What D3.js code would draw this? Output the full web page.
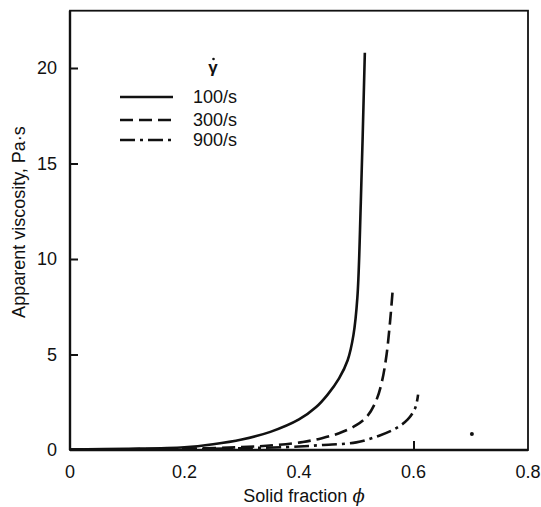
<!DOCTYPE html>
<html>
<head>
<meta charset="utf-8">
<script src="https://cdn.jsdelivr.net/npm/d3@7"></script>
<style>
  body { margin: 0; background: #fff; }
  text { font-family: "Liberation Sans", Arial, sans-serif; fill: #111; }
</style>
</head>
<body>
<div id="chart"></div>
<script>
// values
const xTicks = [0, 0.2, 0.4, 0.6, 0.8]
const yTicks = [0, 5, 10, 15, 20]
const rateLabels = ["100/s", "300/s", "900/s"]

const phi100  = [0, 0.1, 0.2, 0.25, 0.3, 0.35, 0.4, 0.43, 0.45, 0.47, 0.485, 0.495, 0.502, 0.508, 0.515]
const visc100 = [0.03, 0.06, 0.14, 0.3, 0.55, 0.95, 1.6, 2.25, 2.9, 3.75, 4.7, 6.0, 8.0, 13.0, 20.8]

const phi300  = [0, 0.1, 0.2, 0.3, 0.36, 0.407, 0.44, 0.47, 0.5, 0.52, 0.535, 0.545, 0.553, 0.559, 0.564]
const visc300 = [0.02, 0.04, 0.07, 0.15, 0.26, 0.42, 0.62, 0.88, 1.3, 1.8, 2.6, 3.6, 5.0, 6.7, 8.5]

const phi900  = [0, 0.1, 0.2, 0.3, 0.4, 0.44, 0.5, 0.54, 0.57, 0.59, 0.603, 0.608]
const visc900 = [0.01, 0.03, 0.05, 0.09, 0.18, 0.26, 0.4, 0.75, 1.15, 1.6, 2.2, 2.9]

// lone speck near phi = 0.7 on the original
const strayPhi  = [0.702]
const strayVisc = [0.84]

function main(){
  const width = 541
  const height = 507

  const svg = d3.select("#chart")
      .append("svg")
      .attr("width", width)
      .attr("height", height)

  const x = d3.scaleLinear().domain([0, 0.8]).range([70, 528])
  const y = d3.scaleLinear().domain([0, 20]).range([450, 68])
  const yTop = y(23)

  const series = [
    {label: rateLabels[0], phi: phi100, visc: visc100, dash: null},
    {label: rateLabels[1], phi: phi300, visc: visc300, dash: "13,6"},
    {label: rateLabels[2], phi: phi900, visc: visc900, dash: "15,5,3,5"}
  ]

  // curves
  const line = d3.line()
      .x(d => x(d[0]))
      .y(d => y(d[1]))
      .curve(d3.curveCatmullRom.alpha(0.5))

  svg.append("g")
    .selectAll("path")
    .data(series)
    .join("path")
      .attr("d", s => line(d3.zip(s.phi, s.visc)))
      .attr("fill", "none")
      .attr("stroke", "#111")
      .attr("stroke-width", 2.6)
      .attr("stroke-dasharray", s => s.dash)

  svg.append("g")
    .selectAll("circle")
    .data(d3.zip(strayPhi, strayVisc))
    .join("circle")
      .attr("cx", d => x(d[0]))
      .attr("cy", d => y(d[1]))
      .attr("r", 2)
      .attr("fill", "#111")

  // frame
  svg.append("rect")
      .attr("x", x(0))
      .attr("y", yTop)
      .attr("width", x(0.8) - x(0))
      .attr("height", y(0) - yTop)
      .attr("fill", "none")
      .attr("stroke", "#111")
      .attr("stroke-width", 1.8)
  // heavier bottom & left edges like the scan
  svg.append("line")
      .attr("x1", x(0)).attr("x2", x(0.8))
      .attr("y1", y(0)).attr("y2", y(0))
      .attr("stroke", "#111").attr("stroke-width", 2.6)
  svg.append("line")
      .attr("x1", x(0)).attr("x2", x(0))
      .attr("y1", yTop).attr("y2", y(0))
      .attr("stroke", "#111").attr("stroke-width", 2.4)

  // axes (ticks point inward)
  const yAxis = svg.append("g")
      .attr("transform", `translate(${x(0)},0)`)
      .call(d3.axisRight(y).tickValues(yTicks.slice(1)).tickSize(8).tickFormat(""))
  yAxis.select(".domain").remove()
  yAxis.selectAll("line").attr("stroke", "#111").attr("stroke-width", 2)

  svg.append("g")
    .selectAll("text")
    .data(yTicks)
    .join("text")
      .attr("x", x(0) - 13)
      .attr("y", d => y(d))
      .attr("dy", "0.35em")
      .attr("text-anchor", "end")
      .attr("font-size", 18)
      .text(d => d)

  const xAxis = svg.append("g")
      .attr("transform", `translate(0,${y(0)})`)
      .call(d3.axisTop(x).tickValues([0.6]).tickSize(9).tickFormat(""))
  xAxis.select(".domain").remove()
  xAxis.selectAll("line").attr("stroke", "#111").attr("stroke-width", 2)

  svg.append("g")
    .selectAll("text")
    .data(xTicks)
    .join("text")
      .attr("x", d => x(d))
      .attr("y", 478)
      .attr("text-anchor", "middle")
      .attr("font-size", 18)
      .text(d => d)

  // axis titles
  const xt = svg.append("text")
      .attr("x", 304)
      .attr("y", 502)
      .attr("text-anchor", "middle")
      .attr("font-size", 18)
  xt.append("tspan").text("Solid fraction ")
  xt.append("tspan").attr("font-style", "italic").attr("font-family", "DejaVu Serif").text("ϕ")

  svg.append("text")
      .attr("transform", "translate(25,222) rotate(-90)")
      .attr("text-anchor", "middle")
      .attr("font-size", 18)
      .text("Apparent viscosity, Pa·s")

  // legend: gamma-dot header (dot drawn by hand so it sits over the glyph)
  const legend = svg.append("g")
  legend.append("text")
      .attr("x", 213)
      .attr("y", 73)
      .attr("text-anchor", "middle")
      .attr("font-size", 17)
      .attr("font-weight", "bold")
      .text("γ")
  legend.append("circle")
      .attr("cx", 213.5)
      .attr("cy", 59)
      .attr("r", 1.3)
      .attr("fill", "#111")

  const rows = legend.selectAll("g.row")
    .data(series)
    .join("g")
      .attr("class", "row")
      .attr("transform", (d, i) => `translate(0,${[97, 120, 140][i]})`)
  rows.append("line")
      .attr("x1", 120).attr("x2", 173)
      .attr("y1", 0).attr("y2", 0)
      .attr("stroke", "#111")
      .attr("stroke-width", 2.6)
      .attr("stroke-dasharray", d => d.dash)
  rows.append("text")
      .attr("x", 193)
      .attr("y", 0)
      .attr("dy", "0.35em")
      .attr("font-size", 18)
      .text(d => d.label)
}
main();
</script>
</body>
</html>
